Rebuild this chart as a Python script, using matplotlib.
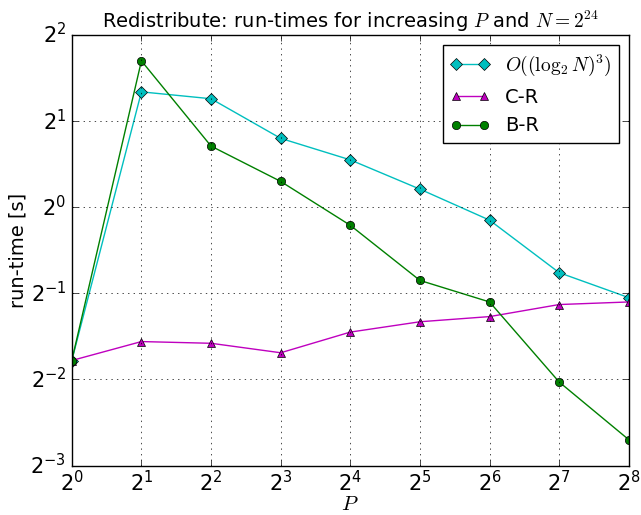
import matplotlib
matplotlib.use('Agg')
import matplotlib.pyplot as plt
import numpy as np

plt.style.use('classic')
plt.rcParams['axes.unicode_minus'] = False

# P = 2^0 .. 2^8
P = [1, 2, 4, 8, 16, 32, 64, 128, 256]

# run-times in seconds (log2 of time)
log_theory = [-1.78, 1.34, 1.26, 0.80, 0.55, 0.21, -0.15, -0.76, -1.05]
log_cr = [-1.78, -1.56, -1.58, -1.69, -1.45, -1.33, -1.27, -1.13, -1.10]
log_br = [-1.78, 1.70, 0.71, 0.30, -0.21, -0.85, -1.10, -2.03, -2.70]

t_theory = 2.0 ** np.array(log_theory)
t_cr = 2.0 ** np.array(log_cr)
t_br = 2.0 ** np.array(log_br)

fig = plt.figure(figsize=(6.41, 5.15), dpi=100, facecolor='white')
ax = fig.add_axes([0.112, 0.096, 0.869, 0.836])

ax.plot(P, t_theory, 'c-D', label=r'$O((\log_2 N)^3)$')
ax.plot(P, t_cr, 'm-^', label='C-R')
ax.plot(P, t_br, 'g-o', label='B-R')

ax.set_xscale('log', base=2)
ax.set_yscale('log', base=2)
ax.set_xlim(1, 256)
ax.set_ylim(2 ** -3, 2 ** 2)
ax.grid(True)
ax.tick_params(labelsize=15)
ax.tick_params(axis='x', pad=3)

ax.set_title(r'Redistribute: run-times for increasing $P$ and $N=2^{24}$', fontsize=14)
ax.set_xlabel(r'$P$', fontsize=15, labelpad=-1)
ax.set_ylabel('run-time [s]', fontsize=14, labelpad=2)
ax.legend(loc='upper right', fontsize=14)

plt.savefig('out.png', dpi=100, facecolor='white')
